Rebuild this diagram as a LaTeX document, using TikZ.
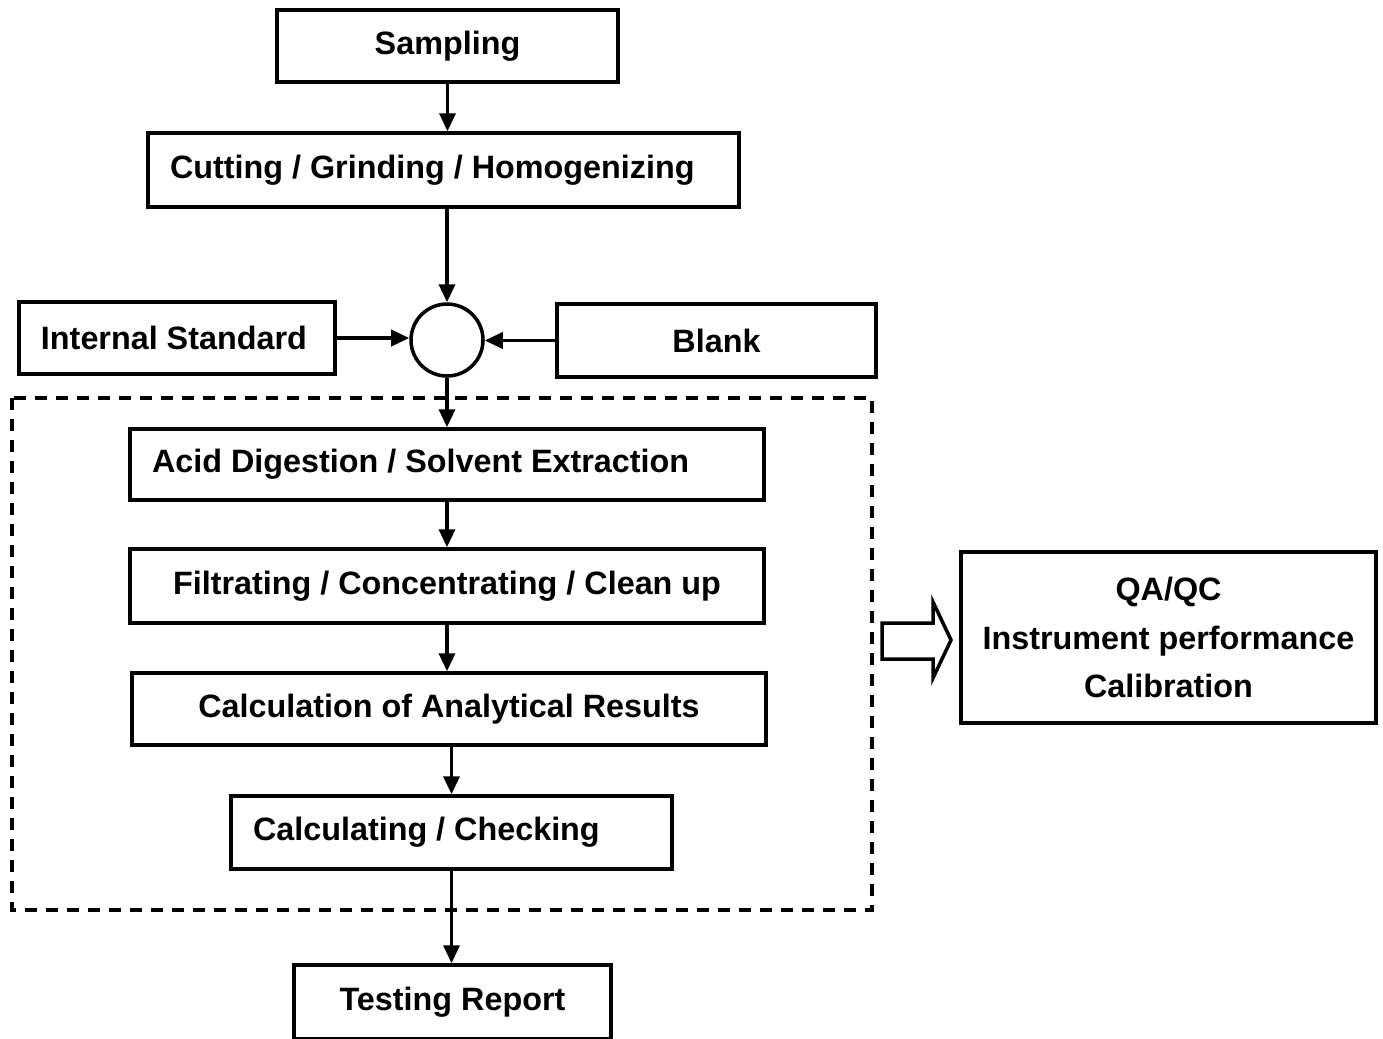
\documentclass[tikz,border=0pt]{standalone}
\usepackage{fontspec}
\setmainfont{Liberation Sans}
\usetikzlibrary{arrows.meta}
\begin{document}
\begin{tikzpicture}[line width=1pt,>={Triangle[length=0.18cm,width=0.16cm]},
    every node/.style={font=\fontsize{9.2}{13.8}\selectfont\bfseries},
    box/.style={draw,inner sep=0pt},
    lbox/.style={draw,inner xsep=0.22cm,inner ysep=0pt,align=flush left}]
    \useasboundingbox (0,0) rectangle (13.83,-10.38);
    \node[box,minimum width=3.41cm,minimum height=0.72cm] (samp) at (4.475,-0.46) {Sampling};
    \node[lbox,text width=5.47cm,minimum height=0.74cm] (cut) at (4.435,-1.70) {Cutting / Grinding / Homogenizing};
    \node[draw,circle,minimum size=0.72cm,inner sep=0pt] (mix) at (4.47,-3.40) {};
    \node[lbox,text width=2.72cm,minimum height=0.72cm] (istd) at (1.77,-3.38) {Internal Standard};
    \node[box,minimum width=3.19cm,minimum height=0.73cm,line width=1.2pt] (blank) at (7.165,-3.405) {Blank};
    \draw[dash pattern=on 0.12cm off 0.09cm,line width=1.2pt] (0.12,-3.98) rectangle (8.72,-9.10);
    \node[lbox,text width=5.90cm,minimum height=0.71cm] (acid) at (4.47,-4.645) {Acid Digestion / Solvent Extraction};
    \node[box,minimum width=6.34cm,minimum height=0.74cm] (filt) at (4.47,-5.86) {Filtrating / Concentrating / Clean up};
    \node[box,minimum width=6.34cm,minimum height=0.72cm] (calc) at (4.49,-7.09) {Calculation of Analytical Results};
    \node[lbox,text width=3.97cm,minimum height=0.73cm] (chk) at (4.515,-8.325) {Calculating / Checking};
    \node[box,minimum width=3.17cm,minimum height=0.74cm] (rep) at (4.525,-10.02) {Testing Report};
    \node[box,minimum width=4.15cm,minimum height=1.71cm,align=center] (qa) at (11.685,-6.375) {QA/QC\\Instrument performance\\Calibration};
    % hollow arrow
    \draw (8.82,-6.23) -- (9.33,-6.23) -- (9.33,-6.02) -- (9.51,-6.40) -- (9.33,-6.78) -- (9.33,-6.59) -- (8.82,-6.59) -- cycle;
    \draw[->] (samp.south) -- (samp.south |- cut.north);
    \draw[->] (mix.north |- cut.south) -- (mix.north);
    \draw[->] (istd.east) -- (istd.east -| mix.west);
    \draw[->] (blank.west) -- (blank.west -| mix.east);
    \draw[->] (mix.south) -- (mix.south |- acid.north);
    \draw[->] (acid.south) -- (filt.north);
    \draw[->] (filt.south) -- (filt.south |- calc.north);
    \draw[->] (chk.north |- calc.south) -- (chk.north);
    \draw[->] (chk.south) -- (chk.south |- rep.north);
\end{tikzpicture}
\end{document}
